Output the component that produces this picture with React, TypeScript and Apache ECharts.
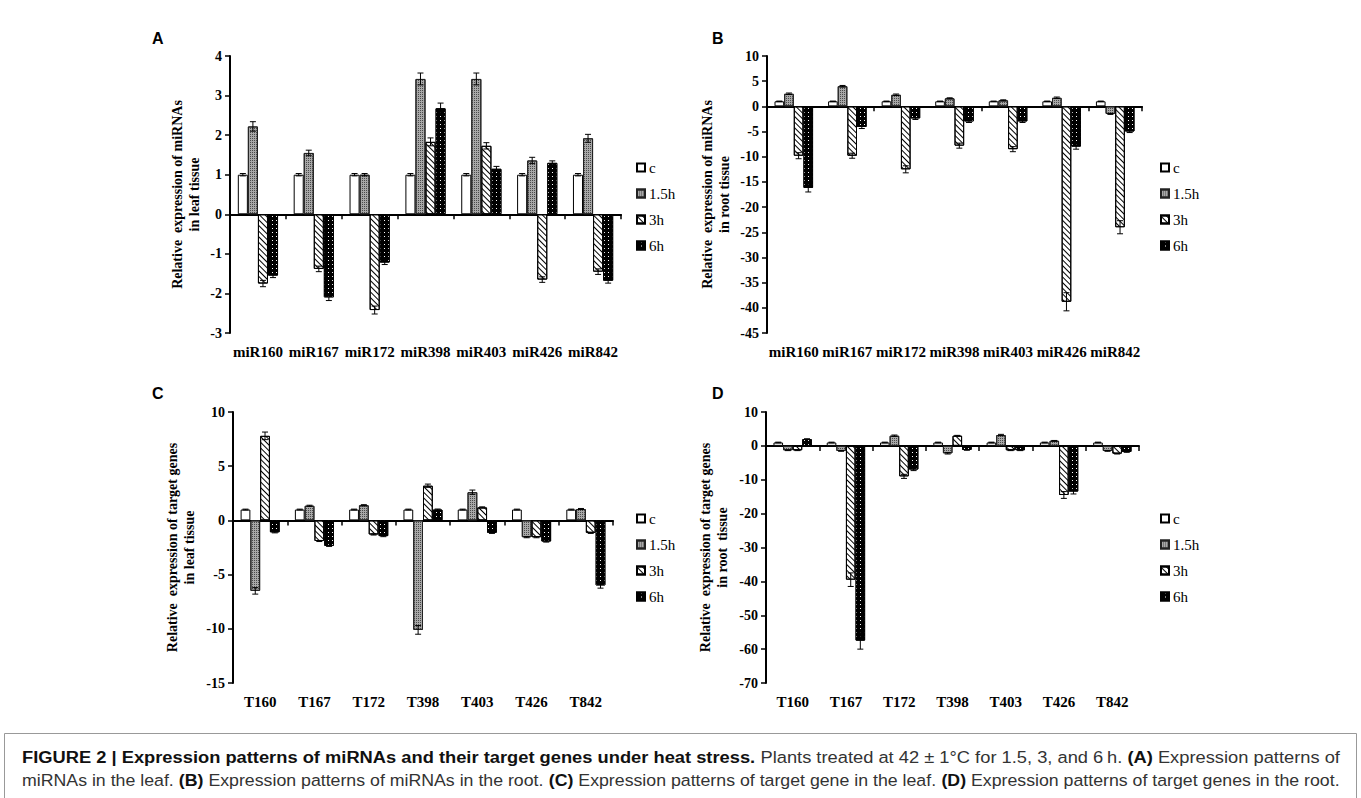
import React, { useEffect, useRef } from "react";
import * as echarts from "echarts";

// ---------- data ----------
const mirCategories = ["miR160", "miR167", "miR172", "miR398", "miR403", "miR426", "miR842"];
const targetCategories = ["T160", "T167", "T172", "T398", "T403", "T426", "T842"];
const legendNames = ["c", "1.5h", "3h", "6h"];

// Panel A: miRNAs in leaf
const aC = [1, 1, 1, 1, 1, 1, 1];
const a15 = [2.22, 1.55, 1.0, 3.42, 3.42, 1.36, 1.92];
const a3 = [-1.75, -1.38, -2.42, 1.83, 1.73, -1.65, -1.45];
const a6 = [-1.55, -2.1, -1.22, 2.68, 1.15, 1.3, -1.68];
const aErrC = [0.03, 0.03, 0.03, 0.03, 0.03, 0.03, 0.03];
const aErr15 = [0.12, 0.07, 0.03, 0.15, 0.15, 0.08, 0.1];
const aErr3 = [0.08, 0.07, 0.1, 0.1, 0.08, 0.07, 0.07];
const aErr6 = [0.05, 0.08, 0.05, 0.13, 0.06, 0.05, 0.06];

// Panel B: miRNAs in root
const bC = [1, 1, 1, 1, 1, 1, 1];
const b15 = [2.5, 4.0, 2.3, 1.6, 1.2, 1.7, -1.5];
const b3 = [-9.8, -9.8, -12.5, -7.8, -8.5, -38.8, -24.0];
const b6 = [-16.2, -4.1, -2.4, -3.0, -3.0, -8.0, -5.0];
const bErrC = [0.05, 0.05, 0.05, 0.05, 0.05, 0.05, 0.05];
const bErr15 = [0.15, 0.15, 0.15, 0.1, 0.1, 0.15, 0.1];
const bErr3 = [0.6, 0.5, 0.7, 0.5, 0.5, 1.8, 1.3];
const bErr6 = [0.8, 0.3, 0.2, 0.2, 0.2, 0.5, 0.2];

// Panel C: target genes in leaf
const cC = [1, 1, 1, 1, 1, 1, 1];
const c15 = [-6.5, 1.35, 1.4, -10.1, 2.6, -1.55, 1.05];
const c3 = [7.8, -1.9, -1.3, 3.2, 1.2, -1.55, -1.15];
const c6 = [-1.1, -2.35, -1.45, 1.0, -1.15, -1.95, -6.0];
const cErrC = [0.04, 0.04, 0.04, 0.04, 0.04, 0.04, 0.04];
const cErr15 = [0.3, 0.05, 0.05, 0.4, 0.2, 0.05, 0.05];
const cErr3 = [0.35, 0.05, 0.05, 0.15, 0.05, 0.05, 0.05];
const cErr6 = [0.05, 0.05, 0.05, 0.05, 0.05, 0.05, 0.25];

// Panel D: target genes in root
const dC = [1, 1, 1, 1, 1, 1, 1];
const d15 = [-1.3, -1.5, 3.0, -2.2, 3.2, 1.5, -1.5];
const d3 = [-1.3, -39.5, -9.0, 3.0, -1.3, -14.5, -2.3];
const d6 = [2.0, -57.5, -7.0, -1.2, -1.3, -13.5, -1.8];
const dErrC = [0.1, 0.1, 0.1, 0.1, 0.1, 0.1, 0.1];
const dErr15 = [0.1, 0.1, 0.2, 0.2, 0.2, 0.1, 0.1];
const dErr3 = [0.1, 2.0, 0.6, 0.1, 0.1, 1.0, 0.1];
const dErr6 = [0.1, 2.5, 0.3, 0.1, 0.1, 0.7, 0.1];

// axis ranges
const yRangeA = { min: -3, max: 4, interval: 1 };
const yRangeB = { min: -45, max: 10, interval: 5 };
const yRangeC = { min: -15, max: 10, interval: 5 };
const yRangeD = { min: -70, max: 10, interval: 10 };

const titlesA = ["Relative  expression of miRNAs", "in leaf tissue"];
const titlesB = ["Relative  expression of miRNAs", "in root tissue"];
const titlesC = ["Relative  expression of target genes", "in leaf tissue"];
const titlesD = ["Relative  expression of target genes", "in root  tissue"];

// ---------- styles ----------
const SERIF = '"Liberation Serif", "Times New Roman", serif';
const SANS = '"Liberation Sans", Arial, sans-serif';
const BAR_RATIO = 0.18;

const barStyles: any[] = [
  { color: "#ffffff", borderColor: "#000", borderWidth: 1 },
  {
    color: "#a8a8a8",
    borderColor: "#222",
    borderWidth: 1,
    decal: { symbol: "rect", symbolSize: 1, color: "#4a4a4a", dashArrayX: [1, 1], dashArrayY: [1, 1], rotation: 0 },
  },
  {
    color: "#ffffff",
    borderColor: "#000",
    borderWidth: 1,
    decal: { symbol: "rect", symbolSize: 1, color: "#000", dashArrayX: [1, 0], dashArrayY: [0.9, 2.4], rotation: Math.PI / 4 },
  },
  {
    color: "#000000",
    borderColor: "#000",
    borderWidth: 1,
    decal: { symbol: "rect", symbolSize: 1, color: "#ffffff", dashArrayX: [1, 2.4], dashArrayY: [1, 3], rotation: 0 },
  },
];

type Panel = {
  cats: string[];
  vals: number[][];
  errs: number[][];
  y: { min: number; max: number; interval: number };
  grid: { left: number; top: number; width: number; height: number };
  title: string[];
  titleX: number;
  letter: string;
  letterPos: [number, number];
  legendPos: [number, number];
};

const panels: Panel[] = [
  {
    cats: mirCategories,
    vals: [aC, a15, a3, a6],
    errs: [aErrC, aErr15, aErr3, aErr6],
    y: yRangeA,
    grid: { left: 230, top: 56, width: 391, height: 277 },
    title: titlesA,
    titleX: 186,
    letter: "A",
    letterPos: [152, 38],
    legendPos: [636, 160],
  },
  {
    cats: mirCategories,
    vals: [bC, b15, b3, b6],
    errs: [bErrC, bErr15, bErr3, bErr6],
    y: yRangeB,
    grid: { left: 767, top: 56, width: 375, height: 277 },
    title: titlesB,
    titleX: 716,
    letter: "B",
    letterPos: [712, 38],
    legendPos: [1160, 160],
  },
  {
    cats: targetCategories,
    vals: [cC, c15, c3, c6],
    errs: [cErrC, cErr15, cErr3, cErr6],
    y: yRangeC,
    grid: { left: 233, top: 412, width: 380, height: 271 },
    title: titlesC,
    titleX: 181,
    letter: "C",
    letterPos: [152, 393],
    legendPos: [636, 511],
  },
  {
    cats: targetCategories,
    vals: [dC, d15, d3, d6],
    errs: [dErrC, dErr15, dErr3, dErr6],
    y: yRangeD,
    grid: { left: 766, top: 412, width: 373, height: 271 },
    title: titlesD,
    titleX: 714,
    letter: "D",
    letterPos: [712, 393],
    legendPos: [1160, 511],
  },
];

// caption
const captionLine1: [string, boolean][] = [
  ["FIGURE 2 | Expression patterns of miRNAs and their target genes under heat stress.", true],
  [" Plants treated at 42 \u00b1 1\u00b0C for 1.5, 3, and 6\u2009h. ", false],
  ["(A)", true],
  [" Expression patterns of", false],
];
const captionLine2: [string, boolean][] = [
  ["miRNAs in the leaf. ", false],
  ["(B)", true],
  [" Expression patterns of miRNAs in the root. ", false],
  ["(C)", true],
  [" Expression patterns of target gene in the leaf. ", false],
  ["(D)", true],
  [" Expression patterns of target genes in the root.", false],
];

const CAP_FS = 17;
const CAP_LEFT = 22;
const CAP_RIGHT = 1340;

function buildCaption(segs: [string, boolean][], y: number) {
  const canvas = document.createElement("canvas");
  const ctx = canvas.getContext("2d")!;
  let x = 0;
  const children: any[] = [];
  segs.forEach(([t, bold]) => {
    ctx.font = `${bold ? "bold " : ""}${CAP_FS}px ${SANS}`;
    const w = ctx.measureText(t).width;
    children.push({
      type: "text",
      x,
      y: 0,
      style: {
        text: t,
        fontFamily: SANS,
        fontSize: CAP_FS,
        fontWeight: bold ? "bold" : "normal",
        fill: bold ? "#111" : "#333",
        align: "left",
        verticalAlign: "middle",
      },
    });
    x += w;
  });
  const s = (CAP_RIGHT - CAP_LEFT) / x;
  return { type: "group", x: CAP_LEFT, y, scaleX: s, children };
}

function buildOption() {
  const grid: any[] = [];
  const xAxis: any[] = [];
  const yAxis: any[] = [];
  const series: any[] = [];
  const legend: any[] = [];
  const graphic: any[] = [];

  panels.forEach((p, pi) => {
    grid.push({ ...p.grid, containLabel: false });
    // label axis (bottom)
    xAxis.push({
      type: "category",
      gridIndex: pi,
      data: p.cats,
      position: "bottom",
      axisLine: { show: false, onZero: false },
      axisTick: { show: false },
      axisLabel: { interval: 0, margin: 11, color: "#000", fontFamily: SERIF, fontWeight: "bold", fontSize: 15 },
      splitLine: { show: false },
    });
    // line axis at zero
    xAxis.push({
      type: "category",
      gridIndex: pi,
      data: p.cats,
      position: "bottom",
      axisLine: { show: true, onZero: true, lineStyle: { color: "#000", width: 2 } },
      axisTick: { show: true, length: 5, inside: false, lineStyle: { color: "#000", width: 1.5 } },
      axisLabel: { show: false },
      splitLine: { show: false },
    });
    yAxis.push({
      type: "value",
      gridIndex: pi,
      min: p.y.min,
      max: p.y.max,
      interval: p.y.interval,
      axisLine: { show: true, lineStyle: { color: "#000", width: 2 } },
      axisTick: { show: true, length: 5, lineStyle: { color: "#000", width: 1.5 } },
      axisLabel: { margin: 8, color: "#000", fontFamily: SERIF, fontWeight: "bold", fontSize: 14 },
      splitLine: { show: false },
    });

    p.vals.forEach((vals, si) => {
      series.push({
        type: "bar",
        name: legendNames[si],
        xAxisIndex: pi * 2,
        yAxisIndex: pi,
        data: vals,
        barWidth: `${BAR_RATIO * 100}%`,
        barGap: "0%",
        itemStyle: barStyles[si],
        silent: true,
      });
    });
    p.vals.forEach((vals, si) => {
      const errs = p.errs[si];
      series.push({
        type: "custom",
        xAxisIndex: pi * 2,
        yAxisIndex: pi,
        silent: true,
        z: 10,
        data: vals.map((v, i) => [i, v, errs[i]]),
        encode: { x: 0, y: 1 },
        renderItem: (params: any, api: any) => {
          const ci = api.value(0);
          const v = api.value(1);
          const e = api.value(2);
          const W = api.size([1, 0])[0];
          const bw = W * BAR_RATIO;
          const base = api.coord([ci, v]);
          const x = base[0] + (si - 1.5) * bw;
          const yHi = api.coord([ci, v + e])[1];
          const yLo = api.coord([ci, v - e])[1];
          const cap = 3;
          const st = { stroke: "#000", lineWidth: 1 };
          return {
            type: "group",
            children: [
              { type: "line", shape: { x1: x, y1: yHi, x2: x, y2: yLo }, style: st },
              { type: "line", shape: { x1: x - cap, y1: yHi, x2: x + cap, y2: yHi }, style: st },
              { type: "line", shape: { x1: x - cap, y1: yLo, x2: x + cap, y2: yLo }, style: st },
            ],
          };
        },
      });
    });

    legend.push({
      left: p.legendPos[0],
      top: p.legendPos[1],
      orient: "vertical",
      icon: "rect",
      itemWidth: 8,
      itemHeight: 8,
      itemGap: 11,
      padding: 0,
      selectedMode: false,
      data: legendNames,
      textStyle: { fontFamily: SERIF, fontSize: 15, color: "#000", padding: [0, 0, 0, -1] },
    });

    const cy = p.grid.top + p.grid.height / 2;
    graphic.push({
      type: "text",
      x: p.titleX,
      y: cy,
      rotation: Math.PI / 2,
      style: {
        text: p.title.join("\n"),
        fontFamily: SERIF,
        fontWeight: "bold",
        fontSize: 14,
        lineHeight: 17,
        fill: "#000",
        align: "center",
        verticalAlign: "middle",
      },
    });
    graphic.push({
      type: "text",
      x: p.letterPos[0],
      y: p.letterPos[1],
      style: {
        text: p.letter,
        fontFamily: SANS,
        fontWeight: "bold",
        fontSize: 16,
        fill: "#000",
        align: "left",
        verticalAlign: "middle",
      },
    });
  });

  graphic.push({
    type: "rect",
    shape: { x: 4.5, y: 733.5, width: 1352, height: 80 },
    style: { fill: "none", stroke: "#999", lineWidth: 1 },
    z: -1,
  });
  graphic.push(buildCaption(captionLine1, 757));
  graphic.push(buildCaption(captionLine2, 780));

  return {
    animation: false,
    backgroundColor: "#ffffff",
    grid,
    xAxis,
    yAxis,
    series,
    legend,
    graphic,
  };
}

export default function App() {
  const ref = useRef<HTMLDivElement>(null);
  useEffect(() => {
    if (!ref.current) return;
    const chart = echarts.init(ref.current, undefined, { renderer: "svg" });
    chart.setOption(buildOption() as any);
    return () => chart.dispose();
  }, []);
  return (
    <div
      ref={ref}
      style={{ position: "absolute", left: 0, top: 0, width: 1361, height: 798, background: "#fff" }}
    />
  );
}
